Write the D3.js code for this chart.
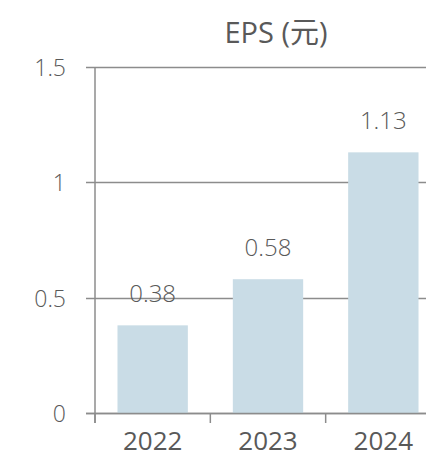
<!DOCTYPE html>
<html><head><meta charset="utf-8">
<script src="https://cdn.jsdelivr.net/npm/d3@7"></script>
<style>
html,body{margin:0;padding:0;background:#fff;}
text{font-family:"Open Sans","Noto Sans CJK SC",sans-serif;fill:#595959;}
</style></head>
<body>
<svg id="c" width="426" height="451"></svg>
<script>
const categories = ["2022", "2023", "2024"];
const values = [0.38, 0.58, 1.13];
const yTicks = [0, 0.5, 1, 1.5];
const yTickLabels = ["0", "0.5", "1", "1.5"];
const title = "EPS (元)";

(function () {
const svg = d3.select("#c");
const mLeft = 95, mRight = 441, mTop = 67, mBottom = 413;
const x = d3.scaleBand().domain(categories).range([mLeft, mRight]).paddingInner(0.39).paddingOuter(0.195);
const y = d3.scaleLinear().domain([0, 1.5]).range([mBottom, mTop]);
const gridColor = "#8c8c8c";

svg.append("g").selectAll("line").data(yTicks).join("line")
  .attr("x1", 86).attr("x2", 426)
  .attr("y1", d => Math.round(y(d)) + 0.5).attr("y2", d => Math.round(y(d)) + 0.5)
  .attr("stroke", gridColor).attr("stroke-width", 1.5);

svg.append("g").selectAll("rect").data(values).join("rect")
  .attr("x", (d, i) => x(categories[i]))
  .attr("width", x.bandwidth())
  .attr("y", d => y(d))
  .attr("height", d => y(0) - y(d))
  .attr("fill", "#c9dce6");

svg.append("line").attr("x1", 86).attr("x2", 426)
  .attr("y1", Math.round(y(0)) + 0.5).attr("y2", Math.round(y(0)) + 0.5)
  .attr("stroke", gridColor).attr("stroke-width", 1.5);

svg.append("line").attr("x1", mLeft).attr("x2", mLeft)
  .attr("y1", mTop).attr("y2", mBottom + 10)
  .attr("stroke", gridColor).attr("stroke-width", 1.5);

const step = x.step();
const bounds = categories.map((c, i) => mLeft + i * step).concat([mLeft + categories.length * step]);
svg.append("g").selectAll("line").data(bounds).join("line")
  .attr("x1", d => d).attr("x2", d => d)
  .attr("y1", mBottom).attr("y2", mBottom + 10)
  .attr("stroke", gridColor).attr("stroke-width", 1.5);

svg.append("g").selectAll("text").data(yTicks).join("text")
  .attr("x", 66).attr("y", d => y(d) + 9)
  .attr("text-anchor", "end").attr("font-size", 23)
  .style("font-weight", 300)
  .text((d, i) => yTickLabels[i]);

svg.append("g").selectAll("text").data(categories).join("text")
  .attr("x", d => x(d) + x.bandwidth() / 2).attr("y", 450)
  .attr("text-anchor", "middle").attr("font-size", 26)
  .style("font-weight", 400)
  .text(d => d);

svg.append("g").selectAll("text").data(values).join("text")
  .attr("x", (d, i) => x(categories[i]) + x.bandwidth() / 2)
  .attr("y", d => y(d) - 23)
  .attr("text-anchor", "middle").attr("font-size", 24)
  .style("font-weight", 300)
  .text(d => d.toFixed(2));

svg.append("text").attr("x", 276).attr("y", 43)
  .attr("text-anchor", "middle").attr("font-size", 29)
  .style("font-weight", 400)
  .text(title);
})();
</script>
</body></html>
